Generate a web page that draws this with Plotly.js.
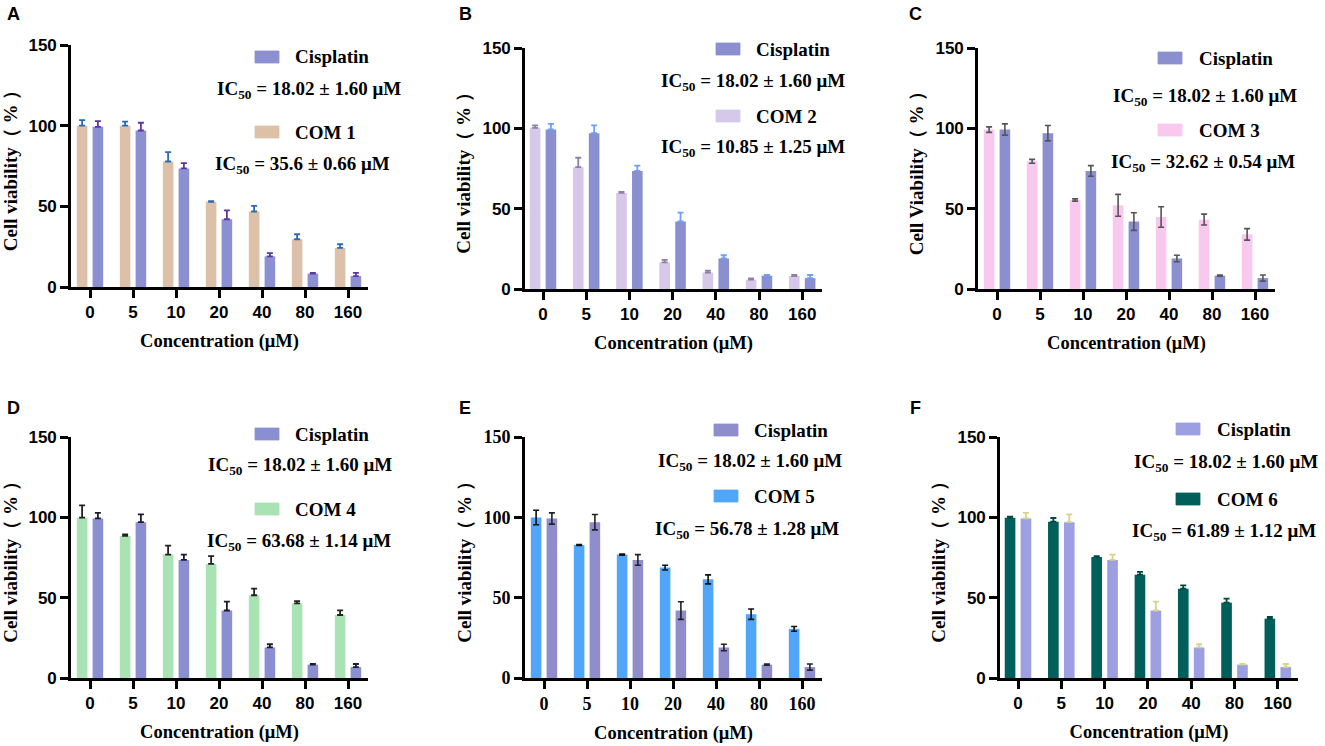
<!DOCTYPE html>
<html>
<head>
<meta charset="utf-8">
<script src="https://cdn.plot.ly/plotly-3.0.1.min.js"></script>
<style>html,body{margin:0;padding:0;background:#fff;}#chart{width:1325px;height:746px;}</style>
</head>
<body>
<div id="chart"></div>
<script>
// ---------- data ----------
const concentrations = ['0', '5', '10', '20', '40', '80', '160'];

const cisplatin    = [99.3, 97.0, 73.5, 42.0, 19.0, 8.3, 6.8];
const cisplatinErr = [3.5, 4.8, 3.3, 5.5, 2.0, 0.4, 1.9];

const com1    = [100.0, 100.0, 77.8, 52.8, 46.8, 29.6, 24.2];
const com1Err = [3.4, 2.5, 5.8, 0.4, 3.5, 3.1, 2.3];

const com2    = [100.3, 75.8, 59.8, 16.6, 10.2, 5.8, 8.1];
const com2Err = [1.5, 5.9, 0.7, 1.5, 1.2, 0.8, 0.6];

const com3    = [99.2, 79.5, 55.4, 52.1, 44.8, 43.2, 34.0];
const com3Err = [1.7, 1.2, 0.7, 6.8, 6.4, 3.4, 3.6];

const com4    = [99.8, 88.4, 76.8, 71.0, 51.5, 46.5, 39.2];
const com4Err = [7.7, 1.0, 5.6, 4.9, 4.1, 1.4, 2.9];

const com5    = [99.9, 82.8, 76.8, 68.7, 61.4, 39.7, 30.6];
const com5Err = [4.5, 0.3, 0.3, 1.5, 2.8, 3.2, 1.5];

const com6    = [99.8, 97.3, 75.3, 64.3, 55.6, 46.9, 36.9];
const com6Err = [0.6, 2.3, 0.6, 1.7, 2.1, 2.5, 1.1];

const compoundNames = ['COM 1', 'COM 2', 'COM 3', 'COM 4', 'COM 5', 'COM 6'];
const cisplatinIC50 = 'IC<sub>50</sub> = 18.02 ± 1.60 μM';
const compoundIC50 = [
  'IC<sub>50</sub> = 35.6 ± 0.66 μM',
  'IC<sub>50</sub> = 10.85 ± 1.25 μM',
  'IC<sub>50</sub> = 32.62 ± 0.54 μM',
  'IC<sub>50</sub> = 63.68 ± 1.14 μM',
  'IC<sub>50</sub> = 56.78 ± 1.28 μM',
  'IC<sub>50</sub> = 61.89 ± 1.12 μM'
];
const yTicks = [0, 50, 100, 150];

// ---------- styling / geometry ----------
const W = 1325, H = 746;
const SERIF = 'Liberation Serif, Times New Roman, serif';
const SANS = 'Liberation Sans, Arial, sans-serif';

const panels = [
  {label:'A', vals:com1, errs:com1Err, color:'#dcc0a8', errC:'#2a6bb8', cisC:'#8b90d2', cisErrC:'#5b36a3', sym:false,
   yl:71, xr:368, yt:45, yb:287, t0:90, s:43, lx:5, ly:14, ytitle:'Cell viability（ % ）', tickSerif:false,
   sw:255, tx:293, cy1:57, ic1:[309,90], cy2:132, ic2:[302,165]},
  {label:'B', vals:com2, errs:com2Err, color:'#d6c8e8', errC:'#8e80a2', cisC:'#8a90cf', cisErrC:'#6f9ff2', sym:false,
   yl:525, xr:822, yt:48, yb:289, t0:543, s:43.2, lx:457, ly:14, ytitle:'Cell viability（ % ）', tickSerif:false,
   sw:716, tx:754, cy1:49, ic1:[753,82], cy2:116, ic2:[753,148]},
  {label:'C', vals:com3, errs:com3Err, color:'#f9c8ee', errC:'#555555', cisC:'#8a8fd0', cisErrC:'#555555', sym:true,
   yl:978, xr:1275, yt:48, yb:289, t0:997, s:43, lx:907, ly:14, ytitle:'Cell Viability（ % ）', tickSerif:false,
   sw:1158, tx:1197, cy1:58, ic1:[1205,97], cy2:130, ic2:[1203,163]},
  {label:'D', vals:com4, errs:com4Err, color:'#a9e2b3', errC:'#222222', cisC:'#8a8fd2', cisErrC:'#1c1c30', sym:false,
   yl:71, xr:368, yt:437, yb:678, t0:90, s:43, lx:5, ly:408, ytitle:'Cell viability（ % ）', tickSerif:false,
   sw:255, tx:293, cy1:434, ic1:[300,466], cy2:509, ic2:[299,542]},
  {label:'E', vals:com5, errs:com5Err, color:'#52a6fa', errC:'#111111', cisC:'#8f8dcc', cisErrC:'#222222', sym:true,
   yl:525, xr:822, yt:437, yb:678, t0:544, s:43, lx:457, ly:408, ytitle:'Cell viability（ % ）', tickSerif:true,
   sw:714, tx:752, cy1:430, ic1:[750,462], cy2:496, ic2:[747,530]},
  {label:'F', vals:com6, errs:com6Err, color:'#005f5a', errC:'#004a44', cisC:'#9ca0e2', cisErrC:'#d4d48a', sym:false,
   yl:1000, xr:1298, yt:437, yb:678, t0:1018, s:43.3, lx:908, ly:408, ytitle:'Cell viability（ % ）', tickSerif:false,
   sw:1176, tx:1215, cy1:429, ic1:[1226,463], cy2:499, ic2:[1224,532]}
];

const fx = p => p / W;
const fy = p => 1 - p / H;

const traces = [];
const layout = {
  width: W, height: H,
  margin: {l:0, r:0, t:0, b:0},
  paper_bgcolor: '#ffffff', plot_bgcolor: 'rgba(0,0,0,0)',
  showlegend: false,
  barmode: 'group', bargap: 0.266, bargroupgap: 0.33,
  annotations: [], shapes: []
};

panels.forEach((p, i) => {
  const n = i === 0 ? '' : String(i + 1);
  const xa = 'x' + n, ya = 'y' + n;
  const errStyle = (arr, col) => p.sym
    ? {type:'data', array: arr, visible:true, color: col, thickness: 1.6, width: 3}
    : {type:'data', array: arr, arrayminus: arr.map(() => 0), symmetric:false, visible:true, color: col, thickness: 1.8, width: 3};
  traces.push({
    type:'bar', x: concentrations, y: p.vals, name: compoundNames[i], xaxis: xa, yaxis: ya,
    marker:{color: p.color, line:{width:0}}, error_y: errStyle(p.errs, p.errC), hoverinfo:'skip'
  });
  traces.push({
    type:'bar', x: concentrations, y: cisplatin, name:'Cisplatin', xaxis: xa, yaxis: ya,
    marker:{color: p.cisC, line:{width:0}}, error_y: {type:'data', array: cisplatinErr,
      arrayminus: p.sym ? cisplatinErr : cisplatinErr.map(() => 0), symmetric: false, visible:true,
      color: p.cisErrC, thickness: p.sym ? 1.6 : 1.8, width: 3}, hoverinfo:'skip'
  });
  const tickFont = p.tickSerif
    ? {family: SERIF, size: 18, color:'#000', weight: 'bold'}
    : {family: SANS, size: 17, color:'#000', weight: 'bold'};
  const common = {
    showline:true, linewidth:2.6, linecolor:'#000', ticks:'outside', ticklen:8, tickwidth:2.6, tickcolor:'#000',
    showgrid:false, zeroline:false, fixedrange:true, automargin:false, tickfont: tickFont
  };
  const r0 = (p.yl - p.t0) / p.s, r1 = (p.xr - p.t0) / p.s;
  layout['xaxis' + n] = Object.assign({}, common, {
    type:'category', domain:[fx(p.yl), fx(p.xr)], range:[r0, r1], anchor: ya,
    title:{text:'Concentration (μM)', font:{family: SERIF, size:18.5, color:'#000', weight:'bold'}, standoff: 13}
  });
  layout['yaxis' + n] = Object.assign({}, common, {
    domain:[fy(p.yb), fy(p.yt)], range:[0, 150], tickvals: yTicks, anchor: xa,
    title:{text: p.ytitle, font:{family: SERIF, size:19, color:'#000', weight:'bold'}, standoff: 7}
  });
  // panel letter
  layout.annotations.push({text: p.label, xref:'paper', yref:'paper', x: fx(p.lx), y: fy(p.ly),
    xanchor:'left', yanchor:'middle', showarrow:false, font:{family: SANS, size:18, color:'#000', weight:'bold'}});
  // legend swatches
  [[p.cy1, p.cisC], [p.cy2, p.color]].forEach(([cy, col]) => {
    layout.shapes.push({type:'rect', xref:'paper', yref:'paper', x0: fx(p.sw), x1: fx(p.sw + 24),
      y0: fy(cy + 6), y1: fy(cy - 6), fillcolor: col, line:{width:0.8, color: col}});
  });
  const lf = {family: SERIF, size:19, color:'#000', weight:'bold'};
  layout.annotations.push({text:'Cisplatin', xref:'paper', yref:'paper', x: fx(p.tx), y: fy(p.cy1),
    xanchor:'left', yanchor:'middle', showarrow:false, font: lf});
  layout.annotations.push({text: compoundNames[i], xref:'paper', yref:'paper', x: fx(p.tx), y: fy(p.cy2),
    xanchor:'left', yanchor:'middle', showarrow:false, font: lf});
  layout.annotations.push({text: cisplatinIC50, xref:'paper', yref:'paper', x: fx(p.ic1[0]), y: fy(p.ic1[1]),
    xanchor:'center', yanchor:'middle', showarrow:false, font: lf});
  layout.annotations.push({text: compoundIC50[i], xref:'paper', yref:'paper', x: fx(p.ic2[0]), y: fy(p.ic2[1]),
    xanchor:'center', yanchor:'middle', showarrow:false, font: lf});
});

Plotly.newPlot('chart', traces, layout, {displayModeBar:false});
</script>
</body>
</html>
